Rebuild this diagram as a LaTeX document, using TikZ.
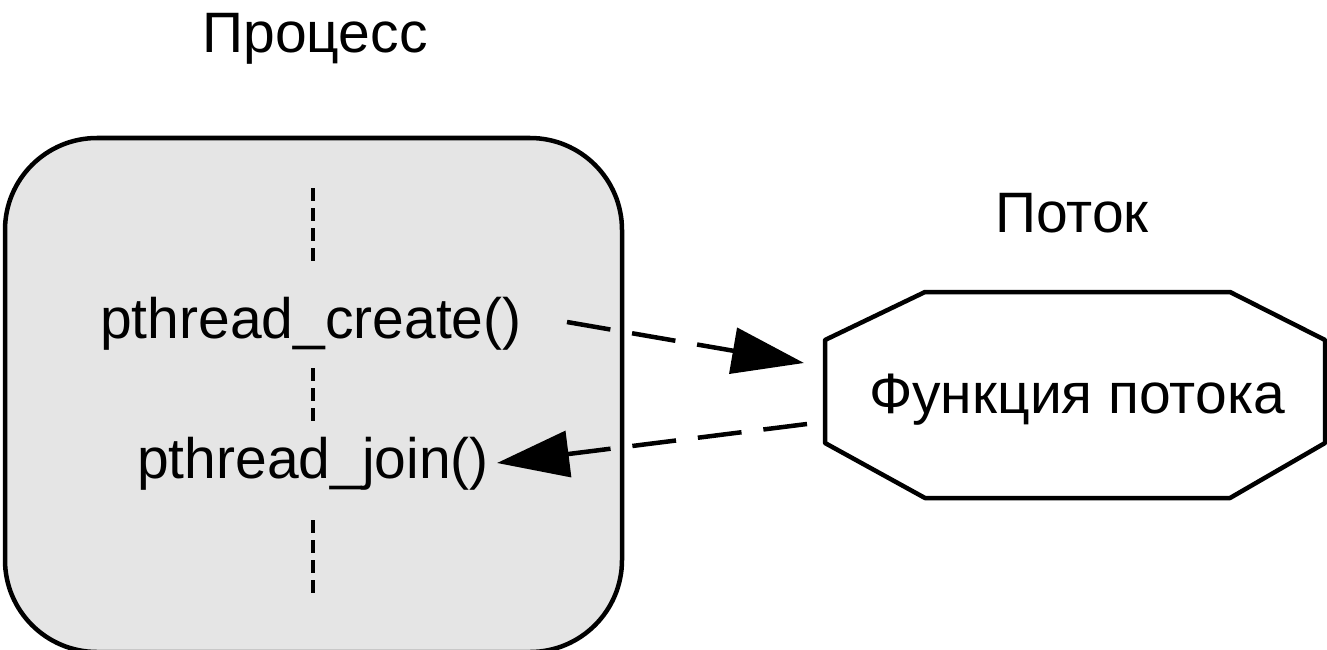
\documentclass[tikz,border=0pt]{standalone}
\usepackage{fontspec}
\setmainfont{Liberation Sans}
\usetikzlibrary{arrows.meta}
\definecolor{procfill}{HTML}{E5E5E5}
\tikzset{
  lbl/.style={inner sep=0pt, anchor=base, font=\fontsize{57}{60}\selectfont},
  call/.style={dash pattern=on 44pt off 22pt, line width=4.5pt,
    -{Triangle[length=72pt,width=46pt]}},
  timeline/.style={line width=4.5pt, dash pattern=on 13pt off 7pt},
  frame/.style={line width=4.5pt, line join=round}
}
\begin{document}
\begin{tikzpicture}[x=1pt,y=-1pt]
\useasboundingbox (0,0) rectangle (1327,650);

% process box
\draw[frame, fill=procfill, rounded corners=92pt] (5,138) rectangle (622,652);

% thread octagon
\draw[frame, fill=white] (925,292) -- (1230,292) -- (1325,340) -- (1325,443)
  -- (1230,498) -- (925,498) -- (825,443) -- (825,340) -- cycle;

% captions
\node[lbl] (proc) at (315,53) {Процесс};
\node[lbl] (thr) at (1072,232) {Поток};

% calls inside the process
\node[lbl] (create) at (311,338) {pthread\_create()};
\node[lbl] (join) at (313,478) {pthread\_join()};
\node[lbl] (func) at (1077,413) {Функция потока};

% timeline of the main thread
\coordinate (t1) at (313,188);
\coordinate (t2) at (313,263);
\coordinate (t3) at (313,368);
\coordinate (t4) at (313,424);
\coordinate (t5) at (313,520);
\coordinate (t6) at (313,596);
\draw[timeline] (t1) -- (t2);
\draw[timeline] (t3) -- (t4);
\draw[timeline] (t5) -- (t6);

% create / join arrows
\coordinate (a1) at (567,322);
\coordinate (a2) at (804,363);
\coordinate (b1) at (807,424);
\coordinate (b2) at (497,463);
\draw[call] (a1) -- (a2);
\draw[call] (b1) -- (b2);
\end{tikzpicture}
\end{document}
